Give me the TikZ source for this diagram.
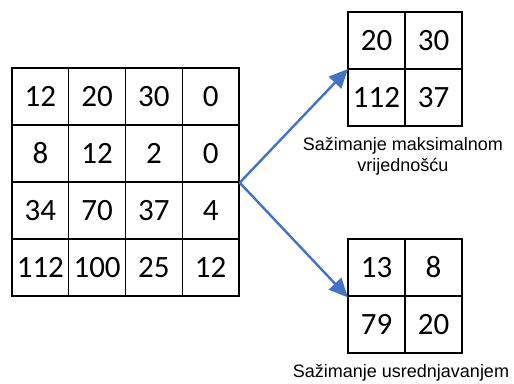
\documentclass[tikz,border=0pt]{standalone}
\usepackage{fontspec}
\setmainfont{Carlito}
\newfontfamily\labfont{Liberation Sans}
\usetikzlibrary{arrows.meta}
\definecolor{arrblue}{HTML}{4472C4}
\tikzset{
  cell/.style={draw=black, line width=1.4pt, minimum width=56.75pt, minimum height=57pt, inner sep=0pt, font=\fontsize{31}{31}\selectfont, anchor=center},
  scell/.style={draw=black, line width=1.4pt, minimum width=57pt, minimum height=57pt, inner sep=0pt, font=\fontsize{31}{31}\selectfont, anchor=center},
  lab/.style={font=\labfont\fontsize{18}{21}\selectfont, align=center, inner sep=0pt},
  arr/.style={draw=arrblue, line width=2.4pt, -{Triangle[length=19pt,width=17pt]}, shorten >=-1pt}
}
\begin{document}
\begin{tikzpicture}[x=1pt,y=-1pt]
\useasboundingbox (0,0) rectangle (514,383);
% left 4x4 grid: x 12..239, y 68..296
\foreach \r/\row in {1/{12,20,30,0},2/{8,12,2,0},3/{34,70,37,4},4/{112,100,25,12}} {
  \foreach \v [count=\c] in \row {
    \node[cell] (a\r\c) at ({12+56.75*(\c-0.5)},{68+57*(\r-0.5)}) {\v};
  }
}
% top 2x2 grid: x 348..462, y 12..126
\node[scell] (m11) at (376.5,40.5) {20};
\node[scell] (m12) at (433.5,40.5) {30};
\node[scell] (m21) at (376.5,97.5) {112};
\node[scell] (m22) at (433.5,97.5) {37};
% bottom 2x2 grid: x 348..462, y 239..353
\node[scell] (v11) at (376.5,267.5) {13};
\node[scell] (v12) at (433.5,267.5) {8};
\node[scell] (v21) at (376.5,324.5) {79};
\node[scell] (v22) at (433.5,324.5) {20};
% labels
\node[lab] (lm) at (403,156) {Sažimanje maksimalnom\\vrijednošću};
\node[lab] (lv) at (401,373) {Sažimanje usrednjavanjem};
% arrows
\draw[arr] (a24.south east) -- (m11.south west);
\draw[arr] (a24.south east) -- (v11.south west);
\end{tikzpicture}
\end{document}
